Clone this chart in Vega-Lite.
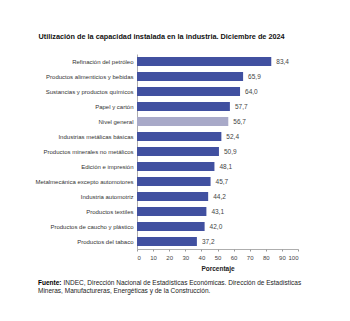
{
  "$schema": "https://vega.github.io/schema/vega-lite/v6.json",
  "width": 161,
  "height": 195,
  "autosize": {"type": "none"},
  "padding": {"left": 137, "top": 54, "right": 52, "bottom": 72},
  "background": "white",
  "config": {
    "view": {"stroke": null},
    "locale": {"number": {"decimal": ",", "thousands": ".", "grouping": [3], "currency": ["$", ""]}},
    "font": "Liberation Sans"
  },
  "title": {
    "text": "Fuente:",
    "orient": "bottom",
    "anchor": "start",
    "frame": "group",
    "dx": -99,
    "offset": -6,
    "font": "Liberation Sans",
    "fontSize": 6.5,
    "fontWeight": "bold",
    "color": "#000000",
    "subtitle": "Mineras, Manufactureras, Energéticas y de la Construcción.",
    "subtitleFont": "Liberation Sans",
    "subtitleFontSize": 6.5,
    "subtitleColor": "#222222",
    "subtitlePadding": 1.5
  },
  "data": {
    "values": [
      {"sector": "Refinación del petróleo", "valor": 83.4, "tipo": "sector"},
      {"sector": "Productos alimenticios y bebidas", "valor": 65.9, "tipo": "sector"},
      {"sector": "Sustancias y productos químicos", "valor": 64.0, "tipo": "sector"},
      {"sector": "Papel y cartón", "valor": 57.7, "tipo": "sector"},
      {"sector": "Nivel general", "valor": 56.7, "tipo": "general"},
      {"sector": "Industrias metálicas básicas", "valor": 52.4, "tipo": "sector"},
      {"sector": "Productos minerales no metálicos", "valor": 50.9, "tipo": "sector"},
      {"sector": "Edición e impresión", "valor": 48.1, "tipo": "sector"},
      {"sector": "Metalmecánica excepto automotores", "valor": 45.7, "tipo": "sector"},
      {"sector": "Industria automotriz", "valor": 44.2, "tipo": "sector"},
      {"sector": "Productos textiles", "valor": 43.1, "tipo": "sector"},
      {"sector": "Productos de caucho y plástico", "valor": 42.0, "tipo": "sector"},
      {"sector": "Productos del tabaco", "valor": 37.2, "tipo": "sector"}
    ]
  },
  "encoding": {
    "y": {
      "field": "sector",
      "type": "nominal",
      "sort": null,
      "scale": {"paddingInner": 0.4, "paddingOuter": 0.2},
      "axis": {
        "title": "Utilización de la capacidad instalada en la industria. Diciembre de 2024",
        "titleAngle": 0,
        "titleAlign": "left",
        "titleBaseline": "alphabetic",
        "titleX": -99,
        "titleY": -16,
        "titleFont": "Liberation Sans",
        "titleFontSize": 7.3,
        "titleFontWeight": "bold",
        "titleColor": "#111111",
        "labelFontSize": 6,
        "labelColor": "#333333",
        "labelPadding": 4,
        "ticks": false,
        "domainColor": "#999999",
        "domainWidth": 0.8
      }
    }
  },
  "layer": [
    {
      "mark": {"type": "bar"},
      "encoding": {
        "x": {
          "field": "valor",
          "type": "quantitative",
          "scale": {"domain": [0, 100]},
          "axis": {
            "title": "Porcentaje",
            "titleFontSize": 6.5,
            "titleFontWeight": "bold",
            "titleColor": "#222222",
            "titlePadding": 5,
            "values": [0, 10, 20, 30, 40, 50, 60, 70, 80, 90, 100],
            "format": "d",
            "labelFontSize": 6,
            "labelColor": "#444444",
            "labelPadding": 3,
            "tickSize": 2,
            "tickColor": "#999999",
            "domainColor": "#999999",
            "domainWidth": 0.8,
            "grid": false
          }
        },
        "color": {
          "field": "tipo",
          "type": "nominal",
          "scale": {"domain": ["sector", "general"], "range": ["#4150a0", "#a8a9c8"]},
          "legend": null
        }
      }
    },
    {
      "mark": {"type": "text", "align": "left", "dx": 5, "fontSize": 6.5, "color": "#444444"},
      "encoding": {
        "x": {
          "field": "valor",
          "type": "quantitative",
          "scale": {"domain": [0, 100]},
          "axis": {
            "orient": "bottom",
            "offset": 0,
            "labels": false,
            "ticks": false,
            "domain": false,
            "grid": false,
            "title": "INDEC, Dirección Nacional de Estadísticas Económicas. Dirección de Estadísticas",
            "titleFont": "Liberation Sans",
            "titleFontSize": 6.5,
            "titleFontWeight": "normal",
            "titleColor": "#222222",
            "titleAlign": "left",
            "titleAnchor": "start",
            "titleBaseline": "alphabetic",
            "titleX": -74,
            "titleY": 35
          }
        },
        "text": {"field": "valor", "type": "quantitative", "format": ".1f"}
      }
    }
  ],
  "resolve": {"axis": {"x": "independent"}}
}
